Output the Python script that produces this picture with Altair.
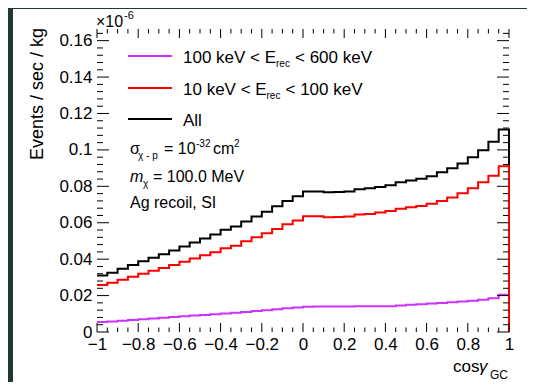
import altair as alt
import numpy as np
import pandas as pd

# ---------------- data ----------------
bin_edges = [round(v, 2) for v in np.linspace(-1, 1, 41)]   # 40 bins of cos(gamma_GC)

e_high = [0.0055, 0.0058, 0.0062, 0.0066, 0.0070, 0.0074, 0.0078, 0.0082, 0.0086, 0.0090,
          0.0094, 0.0098, 0.0102, 0.0106, 0.0110, 0.0115, 0.0120, 0.0125, 0.0130, 0.0135,
          0.0139, 0.0140, 0.0140, 0.0140, 0.0140, 0.0141, 0.0141, 0.0142, 0.0142, 0.0146,
          0.0149, 0.0153, 0.0156, 0.0159, 0.0163, 0.0167, 0.0171, 0.0177, 0.0185, 0.0205]

e_low = [0.0258, 0.0270, 0.0287, 0.0304, 0.0320, 0.0336, 0.0351, 0.0368, 0.0386, 0.0403,
         0.0421, 0.0438, 0.0460, 0.0474, 0.0498, 0.0520, 0.0542, 0.0566, 0.0592, 0.0613,
         0.0636, 0.0636, 0.0630, 0.0632, 0.0634, 0.0645, 0.0648, 0.0656, 0.0665, 0.0677,
         0.0685, 0.0692, 0.0704, 0.0720, 0.0738, 0.0762, 0.0790, 0.0822, 0.0858, 0.0910]

e_all = [0.0310, 0.0325, 0.0347, 0.0368, 0.0388, 0.0408, 0.0427, 0.0448, 0.0470, 0.0492,
         0.0514, 0.0535, 0.0561, 0.0579, 0.0607, 0.0634, 0.0661, 0.0690, 0.0720, 0.0746,
         0.0772, 0.0772, 0.0767, 0.0769, 0.0771, 0.0784, 0.0789, 0.0796, 0.0806, 0.0822,
         0.0832, 0.0842, 0.0856, 0.0877, 0.0899, 0.0926, 0.0960, 0.0998, 0.1045, 0.1112]

series_names = ["100-600", "All", "10-100"]
series_values = [e_high, e_all, e_low]
series_colors = ["#cc33ff", "#000000", "#ff0000"]

x_major = [-1, -0.8, -0.6, -0.4, -0.2, 0, 0.2, 0.4, 0.6, 0.8, 1]
y_major = [0, 0.02, 0.04, 0.06, 0.08, 0.1, 0.12, 0.14, 0.16]
x_minor = [round(v, 2) for v in np.arange(-1, 1.001, 0.05) if round(v, 2) not in x_major]
y_minor = [round(v, 3) for v in np.arange(0, 0.1661, 0.004) if round(v, 3) not in y_major]

# ---------------- layout constants ----------------
W, H = 412, 303
FONT = "Liberation Sans"
BG = "#243832"

rows = []
for name, vals in zip(series_names, series_values):
    k = 0
    for xe, v in zip(bin_edges[:-1], vals):
        rows.append({"s": name, "x": xe, "v": v, "o": k}); k += 1
    rows.append({"s": name, "x": 1.0, "v": vals[-1], "o": k}); k += 1
    rows.append({"s": name, "x": 1.0, "v": 0.0, "o": k})
df = pd.DataFrame(rows)

xscale = alt.Scale(domain=[-1, 1], nice=False, zero=False)
yscale = alt.Scale(domain=[0, 0.1664], nice=False, zero=False)

xaxis = alt.Axis(values=x_major, format=".1~f", labelExpr="replace(datum.label, '-', '\u2212')",
                 ticks=False, tickSize=0, domain=False, grid=False, title=None,
                 labelFont=FONT, labelFontSize=17, labelColor="black", labelPadding=4,
                 labelBaseline="top", labelFlush=False, zindex=2)
yaxis = alt.Axis(values=y_major, format=".2~f", ticks=False, tickSize=0, domain=False,
                 grid=False, title=None, labelFont=FONT, labelFontSize=17,
                 labelColor="black", labelPadding=5, labelFlush=False, zindex=2)

one = pd.DataFrame({"a": [0]})

# white panel behind the plot
panel = alt.Chart(one).mark_rect(color="white").encode(
    x=alt.value(-84), x2=alt.value(438), y=alt.value(-20), y2=alt.value(380))

layers = [panel]

# histogram outlines
for name, col in zip(series_names, series_colors):
    layers.append(
        alt.Chart(df[df.s == name]).mark_line(interpolate="step-after", strokeWidth=2,
                                               color=col, clip=False).encode(
            x=alt.X("x:Q", scale=xscale, axis=xaxis),
            y=alt.Y("v:Q", scale=yscale, axis=yaxis),
            order="o:Q")
    )

# inward ticks on all four sides
def xticks(vals, length):
    d = pd.DataFrame({"t": vals})
    b = alt.Chart(d).mark_rule(color="black", strokeWidth=1).encode(
        x=alt.X("t:Q", scale=xscale, axis=xaxis), y=alt.value(H), y2=alt.value(H - length))
    t = alt.Chart(d).mark_rule(color="black", strokeWidth=1).encode(
        x=alt.X("t:Q", scale=xscale, axis=xaxis), y=alt.value(0), y2=alt.value(length))
    return [b, t]

def yticks(vals, length):
    d = pd.DataFrame({"t": vals})
    l = alt.Chart(d).mark_rule(color="black", strokeWidth=1).encode(
        y=alt.Y("t:Q", scale=yscale, axis=yaxis), x=alt.value(0), x2=alt.value(length))
    r = alt.Chart(d).mark_rule(color="black", strokeWidth=1).encode(
        y=alt.Y("t:Q", scale=yscale, axis=yaxis), x=alt.value(W), x2=alt.value(W - length))
    return [l, r]

layers += xticks(x_major, 9) + xticks(x_minor, 4.5)
layers += yticks(y_major, 12) + yticks(y_minor, 6)

# legend
legend_y = [27, 59, 90]
legend_order = ["100-600", "10-100", "All"]
legend_colors = {"100-600": "#cc33ff", "10-100": "#ff0000", "All": "#000000"}
for name, yy in zip(legend_order, legend_y):
    layers.append(alt.Chart(one).mark_rule(strokeWidth=2, color=legend_colors[name]).encode(
        x=alt.value(31), x2=alt.value(75), y=alt.value(yy)))

def txt(s, x, y, size, italic=False, align="left"):
    return alt.Chart(one).mark_text(
        text=s, font=FONT, fontSize=size, align=align, baseline="alphabetic",
        fontStyle="italic" if italic else "normal", color="black").encode(
        x=alt.value(x), y=alt.value(y))

OX, OY = 97, 29   # page position of the plot origin
def T(s, px, py, size, italic=False):
    return txt(s, px - OX, py - OY, size, italic)

layers += [
    T("100 keV < E", 183, 63, 17), T("rec", 276, 67, 10), T("< 600 keV", 295, 63, 17),
    T("10 keV < E", 183, 95, 17), T("rec", 266.5, 99, 10), T("< 100 keV", 285.5, 95, 17),
    T("All", 183, 126, 17),
    T("\u03c3", 130, 154, 16), T("\u03c7 - p", 138, 159, 10), T("= 10", 164, 154, 16),
    T("-32", 196, 147, 10), T("cm", 213, 154, 16), T("2", 234, 147, 10),
    T("m", 130, 182, 16, italic=True), T("\u03c7", 143, 187, 10), T("= 100.0 MeV", 153, 182, 16),
    T("Ag recoil, SI", 130, 208, 16),
    T("\u00d710", 96, 27, 16), T("-6", 124, 19, 11),
    T("cos", 453, 372, 17), T("\u03b3", 479, 372, 17, italic=True), T("GC", 490, 379, 12),
]

# y axis title
layers.append(alt.Chart(one).mark_text(
    text="Events / sec / kg", font=FONT, fontSize=18, angle=270, align="right",
    baseline="middle", color="black").encode(x=alt.value(38 - OX), y=alt.value(28 - OY)))

chart = alt.layer(*layers).properties(
    width=W, height=H,
    autosize=alt.AutoSizeParams(type="none"),
    padding={"left": 89, "top": 21, "right": 18, "bottom": 50},
).configure(background=BG).configure_view(stroke="black", strokeWidth=1)

chart.save("out.html", embed_options={"renderer": "svg", "actions": False})
